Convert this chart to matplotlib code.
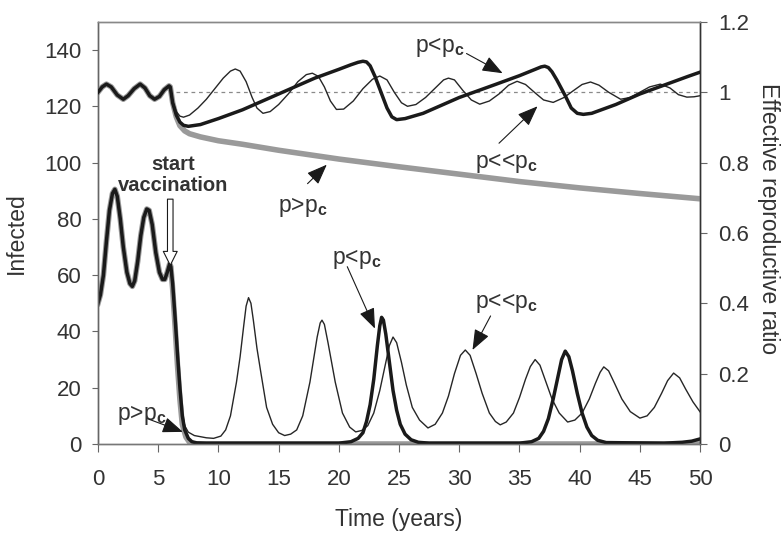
import matplotlib
matplotlib.use("Agg")
import matplotlib.pyplot as plt

plt.rcParams['font.family'] = ['Liberation Sans', 'DejaVu Sans']
plt.rcParams['mathtext.fontset'] = 'custom'
plt.rcParams['mathtext.rm'] = 'Liberation Sans'
plt.rcParams['mathtext.bf'] = 'Liberation Sans:bold'

# ---------------- data ----------------
# shared pre-vaccination part (t = 0..6)
t_pre = [0, 0.2, 0.45, 0.7, 0.95, 1.2, 1.4, 1.6, 1.85, 2.1, 2.4, 2.65, 2.85, 3.05, 3.3, 3.55, 3.8,
         4.05, 4.25, 4.5, 4.8, 5.1, 5.35, 5.55, 5.75, 5.95, 6.05]
inf_pre = [50, 53, 60, 72, 83, 89, 90.5, 88, 80, 70, 61, 57, 56, 58, 65, 74, 80.5,
           83.5, 83, 78, 68, 61, 58.5, 58.5, 61, 64, 63]

# Infected after vaccination start, p << pc (thin)
t_inf_ll = [6.2, 6.4, 6.6, 6.8, 7.0, 7.2, 7.5, 8.0, 9.0, 9.6, 10.2, 10.6, 11.0, 11.5, 11.8, 12.1, 12.3,
            12.5, 12.7, 12.9, 13.2, 13.5, 14.0, 14.5, 15.0, 15.5, 16.0, 16.5, 17.0, 17.6, 17.9, 18.2,
            18.45, 18.6, 18.8, 19.1, 19.4, 19.7, 20.3, 20.9, 21.4, 21.9, 22.4, 22.9, 23.4, 23.8, 24.2,
            24.5, 24.8, 25.2, 25.6, 26.1, 26.7, 27.4, 28.0, 28.6, 29.1, 29.6, 30.1, 30.5, 30.9, 31.4,
            31.9, 32.5, 33.0, 33.4, 33.9, 34.5, 35.0, 35.5, 35.9, 36.3, 36.7, 37.2, 37.7, 38.3, 39.0,
            39.6, 40.2, 40.8, 41.3, 41.7, 42.0, 42.4, 42.9, 43.5, 44.2, 45.0, 45.6, 46.2, 46.8, 47.3,
            47.8, 48.3, 48.8, 49.4, 50.0]
inf_ll = [57, 45, 32, 20, 11, 6.5, 4.2, 3, 2.2, 2, 2.8, 5, 10, 22, 31, 42, 49,
          52, 50, 44, 34, 26, 13, 7, 4, 3, 3.5, 5, 10, 22, 30, 38,
          43, 44, 42.5, 36, 29, 22, 11, 6, 4.3, 4.8, 6.5, 11, 19, 27, 35,
          38, 36, 29, 21, 13, 8.5, 5.7, 7, 11, 17, 25, 31.5, 33.4, 31.5, 25,
          18, 11, 8, 6.8, 7.8, 11, 16.5, 23, 27.5, 30, 28, 22, 16, 11, 7.8,
          8.5, 11, 16, 21.5, 25.5, 27.4, 26, 21.5, 16, 11.5, 9.2, 10, 13, 18, 22.5,
          25.2, 23.5, 19.5, 15, 11.4]

# p < pc (thick black)
t_inf_l = [6.2, 6.4, 6.6, 6.8, 7.0, 7.2, 7.5, 7.8, 8.2, 9.0, 20.0, 21.0, 21.6, 22.0, 22.3, 22.6, 22.9,
           23.2, 23.4, 23.55, 23.7, 23.9, 24.2, 24.5, 24.8, 25.1, 25.5, 26.0, 26.6, 27.5, 35.0, 36.0,
           36.6, 37.0, 37.4, 37.8, 38.2, 38.5, 38.8, 39.1, 39.4, 39.8, 40.2, 40.6, 41.0, 41.5, 42.2,
           47.0, 48.5, 49.3, 50.0]
inf_l = [57, 45, 32, 20, 10, 5, 2, 0.8, 0.4, 0.3, 0.3, 0.8, 2, 4, 8, 14, 23,
         35, 42, 45, 44, 39, 29, 19, 12, 7, 3.5, 1.5, 0.6, 0.3, 0.3, 0.8,
         2, 4.5, 9, 16, 24, 30, 33, 31, 26, 18, 11, 6, 3, 1.3, 0.5,
         0.3, 0.6, 1, 1.8]

# p > pc (thick gray)
t_inf_g = [6.2, 6.4, 6.6, 6.8, 7.0, 7.3, 7.6, 8.0, 50.0]
inf_g = [55, 42, 28, 16, 7, 2.5, 0.6, 0, 0]

# Effective reproductive ratio
t_r_pre = [0, 0.35, 0.7, 1.1, 1.6, 2.1, 2.5, 3.0, 3.5, 3.9, 4.3, 4.7, 5.1, 5.5, 5.9, 6.0]
r_pre = [1.0, 1.015, 1.023, 1.015, 0.992, 0.98, 0.99, 1.01, 1.023, 1.012, 0.99, 0.98, 0.988, 1.007, 1.018, 1.015]

t_r_g = [6.2, 6.5, 6.8, 7.2, 7.6, 8.5, 10, 12, 15, 20, 25, 30, 35, 40, 45, 50]
r_g = [0.97, 0.93, 0.905, 0.89, 0.882, 0.873, 0.862, 0.852, 0.835, 0.81, 0.788, 0.767, 0.746, 0.728, 0.712, 0.697]

t_r_ll = [6.2, 6.5, 6.8, 7.1, 7.6, 8.3, 9.0, 9.7, 10.4, 11.0, 11.4, 11.8, 12.3, 12.8, 13.2, 13.7, 14.3,
          15.0, 15.8, 16.6, 17.3, 17.8, 18.3, 18.8, 19.3, 19.8, 20.4, 21.2, 22.0, 22.8, 23.4, 24.0, 24.6,
          25.2, 25.7, 26.4, 27.2, 28.1, 28.7, 29.1, 29.6, 30.3, 31.0, 31.7, 32.5, 33.3, 34.1, 34.8, 35.5,
          36.3, 37.0, 37.8, 38.7, 39.5, 40.2, 40.9, 41.6, 42.4, 43.4, 44.2, 45.0, 45.8, 46.7, 47.5, 48.2,
          48.9, 49.5, 50.0]
r_ll = [0.975, 0.945, 0.932, 0.929, 0.935, 0.955, 0.98, 1.01, 1.04, 1.06, 1.066, 1.06, 1.03, 0.985, 0.955, 0.94, 0.945,
        0.965, 0.995, 1.03, 1.05, 1.054, 1.045, 1.015, 0.975, 0.951, 0.952, 0.975, 1.01, 1.037, 1.046, 1.035, 1.0,
        0.97, 0.96, 0.965, 0.985, 1.015, 1.035, 1.04, 1.035, 1.005, 0.978, 0.966, 0.975, 0.995, 1.02, 1.031, 1.022,
        0.998, 0.978, 0.971, 0.985, 1.005, 1.022, 1.029, 1.02, 1.0, 0.98, 0.985, 1.0, 1.015, 1.023, 1.012, 0.993,
        0.986, 0.987, 0.99]

t_r_l = [6.2, 6.5, 6.8, 7.1, 7.5, 8.5, 10, 12, 14, 16, 18, 20, 21, 21.6, 22.0, 22.3, 22.6, 23.0, 23.5, 24.0,
         24.4, 24.8, 25.5, 27, 30, 33, 35, 36.3, 36.8, 37.1, 37.4, 37.7, 38.1, 38.8, 39.3, 39.8, 40.3, 41,
         43, 45, 47, 49, 50]
r_l = [0.97, 0.935, 0.915, 0.906, 0.903, 0.908, 0.925, 0.95, 0.98, 1.01, 1.04, 1.065, 1.078, 1.085, 1.088, 1.086,
       1.075, 1.045, 1.0, 0.955, 0.93, 0.922, 0.925, 0.94, 0.985, 1.022, 1.047, 1.065, 1.072, 1.074, 1.07, 1.058,
       1.035, 0.99, 0.955, 0.94, 0.937, 0.94, 0.965, 0.995, 1.02, 1.045, 1.057]

x_ticks = [0, 5, 10, 15, 20, 25, 30, 35, 40, 45, 50]
y_ticks_left = [0, 20, 40, 60, 80, 100, 120, 140]
y_ticks_right = [0, 0.2, 0.4, 0.6, 0.8, 1.0, 1.2]
y_ticks_right_labels = ["0", "0.2", "0.4", "0.6", "0.8", "1", "1.2"]

# ---------------- plot ----------------
fig = plt.figure(figsize=(7.84, 5.33), dpi=100)
ax = fig.add_axes([0.125, 0.167, 0.768, 0.792])
ax2 = ax.twinx()

GRAY = '#9a9a9a'
BLACK = '#1a1a1a'


def cat(a, b):
    return list(a) + list(b)


# Infected curves
ax.plot(cat(t_pre, t_inf_g), cat(inf_pre, inf_g), color=GRAY, lw=4, zorder=2)
ax.plot(cat(t_pre, t_inf_ll), cat(inf_pre, inf_ll), color='#262626', lw=1.0, zorder=3)
ax.plot(cat(t_pre, t_inf_l), cat(inf_pre, inf_l), color=BLACK, lw=2.5, zorder=4)

# R curves
ax2.plot([6.5, 50], [1.0, 1.0], color='#8a8a8a', lw=0.9, ls=(0, (3, 3)), zorder=1)
ax2.plot(cat(t_r_pre, t_r_g), cat(r_pre, r_g), color=GRAY, lw=4, zorder=2)
ax2.plot(cat(t_r_pre, t_r_ll), cat(r_pre, r_ll), color='#262626', lw=1.0, zorder=3)
ax2.plot(cat(t_r_pre, t_r_l), cat(r_pre, r_l), color=BLACK, lw=2.5, zorder=4)

ax.set_xlim(0, 50)
ax.set_ylim(0, 150)
ax2.set_ylim(0, 1.2)
ax.set_xticks(x_ticks)
ax.set_yticks(y_ticks_left)
ax2.set_yticks(y_ticks_right)
ax2.set_yticklabels(y_ticks_right_labels)

tick_color = '#333333'
ax.tick_params(axis='x', direction='out', length=6, width=0.8, pad=12, labelsize=16,
               colors='#666666', labelcolor=tick_color)
ax.tick_params(axis='y', direction='out', length=4, width=0.8, pad=8, labelsize=16,
               colors='#666666', labelcolor=tick_color)
ax2.tick_params(axis='y', direction='out', length=5, width=0.8, pad=8, labelsize=16,
                colors='#666666', labelcolor=tick_color)

for a in (ax, ax2):
    a.spines['left'].set_color('#666666')
    a.spines['bottom'].set_color('#777777')
    a.spines['top'].set_color('#888888')
    a.spines['right'].set_color('#333333')
    for s in a.spines.values():
        s.set_linewidth(1.0)

ax.set_xlabel('Time (years)', fontsize=16.5, color=tick_color, va='center')
ax.xaxis.set_label_coords(0.5, -0.18)
ax.set_ylabel('Infected', fontsize=16.5, color=tick_color, va='center', ha='center')
ax.yaxis.set_label_coords(-0.135, 0.5)
ax2.set_ylabel('Effective reproductive ratio', fontsize=16.5, color=tick_color,
               rotation=270, va='center', ha='center')
ax2.yaxis.set_label_coords(1.113, 0.535)

ax2.set_zorder(ax.get_zorder() + 1)
ax2.patch.set_visible(False)

# annotations
arrow = dict(arrowstyle='-|>,head_length=0.9,head_width=0.35', color=BLACK, lw=0.8,
             mutation_scale=14, shrinkA=0, shrinkB=0)
afs = 16.5
lab_lt = r'p<p$_{\mathbf{c}}$'
lab_ll = r'p<<p$_{\mathbf{c}}$'
lab_gt = r'p>p$_{\mathbf{c}}$'

# upper (R axis)
ax2.text(28.4, 1.129, lab_lt, fontsize=afs, ha='center', va='center', color=tick_color, zorder=6)
ax2.annotate('', xy=(33.6, 1.054), xytext=(30.6, 1.11), arrowprops=arrow, zorder=6)
ax2.text(33.9, 0.80, lab_ll, fontsize=afs, ha='center', va='center', color=tick_color, zorder=6)
ax2.annotate('', xy=(36.5, 0.96), xytext=(33.3, 0.855), arrowprops=arrow, zorder=6)
ax2.text(17.0, 0.674, lab_gt, fontsize=afs, ha='center', va='center', color=tick_color, zorder=6)
ax2.annotate('', xy=(19.0, 0.794), xytext=(17.4, 0.74), arrowprops=arrow, zorder=6)


# lower (Infected axis) - drawn on ax2 using the left-axis scale
def inf2r(v):
    return v * 1.2 / 150.0


ax2.text(3.65, inf2r(10.3), lab_gt, fontsize=afs, ha='center', va='center', color=tick_color, zorder=6)
ax2.annotate('', xy=(7.05, inf2r(4.3)), xytext=(4.1, inf2r(9.0)), arrowprops=arrow, zorder=6)
ax2.text(21.5, inf2r(65.8), lab_lt, fontsize=afs, ha='center', va='center', color=tick_color, zorder=6)
ax2.annotate('', xy=(23.0, inf2r(41)), xytext=(20.7, inf2r(63)), arrowprops=arrow, zorder=6)
ax2.text(33.9, inf2r(50), lab_ll, fontsize=afs, ha='center', va='center', color=tick_color, zorder=6)
ax2.annotate('', xy=(31.1, inf2r(33.4)), xytext=(32.6, inf2r(45.5)), arrowprops=arrow, zorder=6)

# start vaccination
ax2.text(6.2, inf2r(95.6), 'start\nvaccination', fontsize=14.5, fontweight='bold', ha='center',
         va='center', color=tick_color, linespacing=1.15, zorder=6)
ax2.annotate('', xy=(6.0, inf2r(63.5)), xytext=(6.0, inf2r(87)),
             arrowprops=dict(width=4, headwidth=10, headlength=10, facecolor='white',
                             edgecolor=BLACK, lw=0.8, shrink=0), zorder=6)

fig.savefig('out.png', dpi=100)
